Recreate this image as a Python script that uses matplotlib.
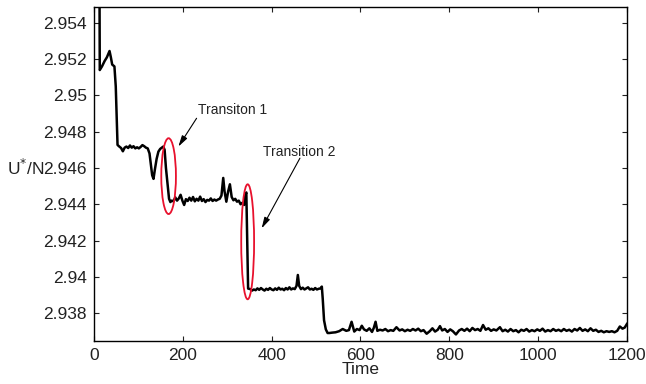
import numpy as np
import matplotlib
matplotlib.use('Agg')
import matplotlib.pyplot as plt
from matplotlib.patches import Ellipse

plt.rcParams['font.family'] = ['Liberation Sans', 'DejaVu Sans']

# start + first plateau + transition 1
time_a = [12, 13, 18, 24, 29, 35, 38, 41, 46, 49, 53, 57, 61, 65, 69, 73, 77, 81, 85,
          89, 93, 97, 101, 105, 109, 113, 117, 121, 125, 128, 131, 134, 137, 141, 145,
          149, 153, 156, 159, 162, 166, 169, 172]
energy_a = [2.9590, 2.95140, 2.95160, 2.95190, 2.95210, 2.95245, 2.95210, 2.95170,
            2.95160, 2.95050, 2.94727, 2.94718, 2.94710, 2.94692, 2.94712, 2.94718,
            2.94710, 2.94724, 2.94712, 2.94720, 2.94708, 2.94714, 2.94708, 2.94716,
            2.94726, 2.94720, 2.94712, 2.94708, 2.94680, 2.94620, 2.94560, 2.94540,
            2.94590, 2.94650, 2.94690, 2.94705, 2.94712, 2.94718, 2.94700, 2.94600,
            2.94500, 2.94430, 2.94412]

# second plateau + transition 2
time_b = [175, 179, 183, 187, 191, 195, 199, 203, 207, 211, 215, 219, 223, 227, 231,
          235, 239, 243, 247, 251, 255, 259, 263, 267, 271, 275, 279, 283, 287, 291,
          294, 298, 302, 306, 310, 314, 318, 322, 326, 330, 334, 338, 341, 343, 345, 347]
energy_b = [2.94420, 2.94416, 2.94438, 2.94420, 2.94432, 2.94452, 2.94420, 2.94396,
            2.94428, 2.94418, 2.94436, 2.94420, 2.94440, 2.94416, 2.94430, 2.94420,
            2.94442, 2.94418, 2.94428, 2.94412, 2.94424, 2.94420, 2.94432, 2.94418,
            2.94426, 2.94420, 2.94426, 2.94430, 2.94448, 2.94545, 2.94470, 2.94414,
            2.94470, 2.94510, 2.94440, 2.94422, 2.94430, 2.94414, 2.94420, 2.94400,
            2.94408, 2.94396, 2.94452, 2.94465, 2.94200, 2.93935]

# third plateau
time_c = [352, 356, 360, 364, 368, 372, 376, 380, 384, 388, 392, 396, 400, 404, 408,
          412, 416, 420, 424, 428, 432, 436, 440, 444, 448, 452, 456, 459, 462, 466,
          470, 474, 478, 482, 486, 490, 494, 498, 502, 506, 510, 513, 515, 518, 522]
energy_c = [2.93932, 2.93924, 2.93930, 2.93926, 2.93936, 2.93928, 2.93938, 2.93930,
            2.93924, 2.93934, 2.93928, 2.93938, 2.93930, 2.93926, 2.93936, 2.93928,
            2.93940, 2.93930, 2.93934, 2.93926, 2.93938, 2.93930, 2.93942, 2.93930,
            2.93936, 2.93932, 2.93950, 2.94010, 2.93950, 2.93932, 2.93940, 2.93930,
            2.93936, 2.93942, 2.93930, 2.93934, 2.93928, 2.93938, 2.93930, 2.93934,
            2.93936, 2.93946, 2.93880, 2.93760, 2.93710]

# final plateau
time_d = [526, 530, 536, 544, 552, 560, 568, 574, 580, 586, 592, 598, 603, 608, 614,
          620, 626, 630, 634, 638, 644, 650, 656, 662, 668, 674, 681, 688, 694, 700,
          706, 712, 718, 724, 730, 736, 742, 749, 756, 762, 768, 774, 779, 784, 790,
          796, 802, 808, 815, 822, 828, 834, 840, 846, 852, 858, 864, 870, 876, 882,
          888, 894, 900, 906, 914, 920, 926, 932, 938, 944, 950, 956, 962, 968, 974,
          980, 986, 992, 998, 1004, 1010, 1016, 1022, 1028, 1034, 1040, 1046, 1052,
          1058, 1064, 1070, 1076, 1082, 1088, 1094, 1100, 1106, 1112, 1118, 1124, 1130,
          1136, 1142, 1148, 1154, 1160, 1166, 1172, 1178, 1184, 1190, 1195, 1200]
energy_d = [2.93690, 2.93690, 2.93692, 2.93694, 2.93700, 2.93712, 2.93702, 2.93706,
            2.93752, 2.93698, 2.93712, 2.93706, 2.93730, 2.93710, 2.93702, 2.93716,
            2.93696, 2.93718, 2.93752, 2.93702, 2.93708, 2.93704, 2.93712, 2.93700,
            2.93706, 2.93702, 2.93722, 2.93704, 2.93710, 2.93700, 2.93708, 2.93702,
            2.93712, 2.93704, 2.93714, 2.93700, 2.93706, 2.93686, 2.93700, 2.93716,
            2.93698, 2.93708, 2.93728, 2.93704, 2.93712, 2.93696, 2.93710, 2.93700,
            2.93682, 2.93704, 2.93712, 2.93702, 2.93714, 2.93700, 2.93718, 2.93706,
            2.93712, 2.93702, 2.93734, 2.93708, 2.93716, 2.93702, 2.93710, 2.93704,
            2.93722, 2.93700, 2.93708, 2.93698, 2.93712, 2.93700, 2.93706, 2.93694,
            2.93708, 2.93702, 2.93712, 2.93698, 2.93706, 2.93700, 2.93710, 2.93702,
            2.93714, 2.93698, 2.93706, 2.93700, 2.93712, 2.93702, 2.93708, 2.93700,
            2.93712, 2.93702, 2.93708, 2.93698, 2.93712, 2.93704, 2.93718, 2.93702,
            2.93710, 2.93700, 2.93716, 2.93702, 2.93708, 2.93696, 2.93702, 2.93694,
            2.93700, 2.93696, 2.93700, 2.93694, 2.93702, 2.93726, 2.93714, 2.93720,
            2.93740]

x_ticks = [0, 200, 400, 600, 800, 1000, 1200]
y_ticks = [2.938, 2.940, 2.942, 2.944, 2.946, 2.948, 2.950, 2.952, 2.954]
y_tick_labels = ['2.938', '2.94', '2.942', '2.944', '2.946', '2.948', '2.95', '2.952', '2.954']

time = time_a + time_b + time_c + time_d
energy = energy_a + energy_b + energy_c + energy_d

fig = plt.figure(figsize=(6.46, 3.84), dpi=100)
ax = fig.add_axes([0.1455, 0.112, 0.825, 0.870])

ax.plot(time, energy, color='black', lw=1.8, zorder=3)

ax.set_xlim(0, 1200)
ax.set_ylim(2.93646, 2.95488)
ax.set_xticks(x_ticks)
ax.set_yticks(y_ticks)
ax.set_yticklabels(y_tick_labels)
ax.tick_params(direction='in', top=True, right=True, length=3.5, width=0.8,
               labelsize=12.5, colors='#222222', pad=5)
for s in ax.spines.values():
    s.set_linewidth(1.0)

ax.set_xlabel('Time', fontsize=12.5, labelpad=-1, color='#222222')
ax.set_ylabel('U$^{*}$/N', fontsize=12.5, rotation=0, ha='right', va='center',
              color='#222222')
ax.yaxis.set_label_coords(-0.094, 0.518)

# ellipses around transitions
ax.add_patch(Ellipse((168, 2.94555), 33, 0.00418, fill=False,
                     edgecolor='#e8112d', lw=1.3, zorder=4))
ax.add_patch(Ellipse((346, 2.94193), 29, 0.00634, fill=False,
                     edgecolor='#e8112d', lw=1.3, zorder=4))

arrow_style = dict(arrowstyle='-|>,head_width=0.15,head_length=0.55', color='black',
                   lw=0.8, mutation_scale=12, shrinkA=0, shrinkB=0)
ax.text(235, 2.94920, 'Transiton 1', fontsize=10, ha='left', va='center', color='#222222')
ax.annotate('', xy=(190, 2.94718), xytext=(231, 2.94874), arrowprops=arrow_style)
ax.text(381, 2.94688, 'Transition 2', fontsize=10, ha='left', va='center', color='#222222')
ax.annotate('', xy=(377.5, 2.94267), xytext=(463.7, 2.94654), arrowprops=arrow_style)

fig.savefig('out.png', dpi=100)
